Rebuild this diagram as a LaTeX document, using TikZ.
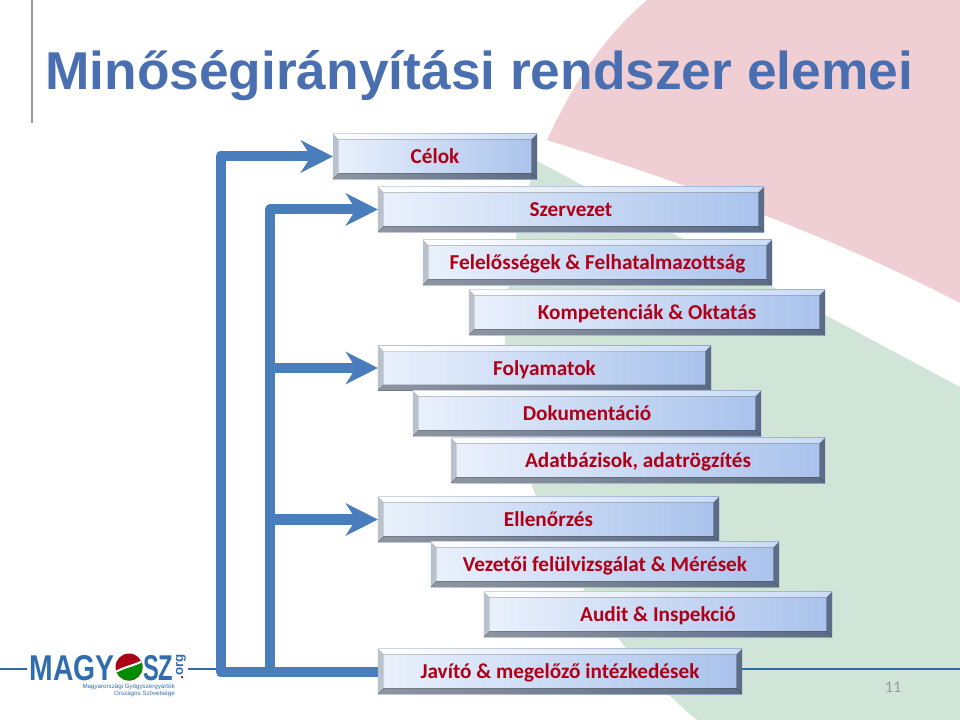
\documentclass[tikz,border=0pt]{standalone}
\usepackage{fontspec}
\usepackage{xcolor}
\usetikzlibrary{arrows.meta,positioning}
\setmainfont{Carlito}
\newfontfamily\headfont{Liberation Sans}
\definecolor{titleblue}{HTML}{4A6FB0}
\definecolor{flowblue}{HTML}{4A7DBB}
\definecolor{logoblue}{HTML}{2F6DAE}
\definecolor{barred}{HTML}{B00018}
\definecolor{pinkback}{HTML}{EFCFD3}
\definecolor{greenback}{HTML}{D0E5D8}
\definecolor{barleft}{HTML}{EAF1FC}
\definecolor{barright}{HTML}{A9C2EC}
\definecolor{topright}{HTML}{C9DBF6}
\definecolor{sideleft}{HTML}{B9C1CD}
\definecolor{sideright}{HTML}{5C6C86}
\definecolor{lowleft}{HTML}{8D95A1}
\tikzset{
  barbox/.style={rectangle,inner sep=0pt,outer sep=0pt,minimum height=1.125cm,
    left color=barleft,right color=barright,
    text=barred,font=\bfseries\fontsize{15.1pt}{17pt}\selectfont,
    text height=.5cm,text depth=.14cm,
    path picture={
      \coordinate (nw) at (path picture bounding box.north west);
      \coordinate (ne) at (path picture bounding box.north east);
      \coordinate (sw) at (path picture bounding box.south west);
      \coordinate (se) at (path picture bounding box.south east);
      \fill[left color=white,right color=topright]
        (nw) -- (ne) -- ([shift={(-.14cm,-.14cm)}]ne) -- ([shift={(.14cm,-.14cm)}]nw) -- cycle;
      \fill[sideleft]
        (nw) -- ([shift={(.14cm,-.14cm)}]nw) -- ([shift={(.14cm,.14cm)}]sw) -- (sw) -- cycle;
      \fill[sideright]
        (ne) -- ([shift={(-.14cm,-.14cm)}]ne) -- ([shift={(-.14cm,.14cm)}]se) -- (se) -- cycle;
      \fill[left color=lowleft,right color=sideright]
        (sw) -- ([shift={(.14cm,.14cm)}]sw) -- ([shift={(-.14cm,.14cm)}]se) -- (se) -- cycle;
    }},
  flowline/.style={draw=flowblue,line width=.25cm,line join=round},
  flowarrow/.style={flowline,-{Stealth[length=.8cm,width=.8cm,inset=.25cm]}},
  thinline/.style={draw=logoblue,line width=.04cm}
}
\begin{document}
\begin{tikzpicture}[x=.025cm,y=-.025cm]
\useasboundingbox (0,0) rectangle (960,720);
% background
\fill[pinkback] (647,0) .. controls (600,40) and (570,90) .. (547,140)
  .. controls (690,185) and (830,235) .. (960,303) -- (960,0) -- cycle;
\fill[greenback] (537,161) -- (960,387) -- (960,720) -- (697,720)
  .. controls (600,640) and (505,490) .. (505,345)
  .. controls (505,280) and (518,215) .. (537,161) -- cycle;
\draw[draw=black!40,line width=.04cm] (32,0) -- (32,123);
\node[text=titleblue,font=\headfont\bfseries\fontsize{37.9pt}{40pt}\selectfont,anchor=base west,inner sep=0pt] (title) at (45,90){Minőségirányítási rendszer elemei};
% lines behind the bars
\draw[thinline] (0,669) -- (27,669);
\draw[thinline] (188,669) -- (960,669);
% bars
\node[barbox,minimum width=5.1cm] (celok) at (435,156.5){Célok};
\node[barbox,minimum width=9.65cm] (szervezet) at (571,209.5){Szervezet};
\node[barbox,minimum width=8.725cm] (felelos) at (597.5,262.5){Felelősségek \& Felhatalmazottság};
\node[barbox,minimum width=8.9cm] (kompetencia) at (647,312.5){Kompetenciák \& Oktatás};
\node[barbox,minimum width=8.325cm] (folyamatok) at (544.5,368){Folyamatok};
\node[barbox,minimum width=8.7cm] (dokumentacio) at (587,413.5){Dokumentáció};
\node[barbox,minimum width=9.35cm] (adatbazis) at (638,460.5){Adatbázisok, adatrögzítés};
\node[barbox,minimum width=8.525cm] (ellenorzes) at (548.5,519.5){Ellenőrzés};
\node[barbox,minimum width=8.7cm] (vezetoi) at (605,564.5){Vezetői felülvizsgálat \& Mérések};
\node[barbox,minimum width=8.7cm] (audit) at (658,614.5){Audit \& Inspekció};
\node[barbox,minimum width=9.1cm] (javito) at (560,671.5){Javító \& megelőző intézkedések};
% arrows
\coordinate (outer) at (220.5,671.5);
\coordinate (inner) at (270,671.5);
\draw[flowarrow] (javito.west) -- (outer) -- (outer |- celok.west) -- (celok.west);
\draw[flowarrow] (inner) -- (inner |- szervezet.west) -- (szervezet.west);
\draw[flowarrow] (inner |- folyamatok.west) -- (folyamatok.west);
\draw[flowarrow] (inner |- ellenorzes.west) -- (ellenorzes.west);
% page number
\node[text=black!40,font=\fontsize{11.5pt}{13pt}\selectfont] (pagenum) at (893,687){11};
% logo
\node[text=logoblue,font=\headfont\bfseries\fontsize{25.5pt}{27pt}\selectfont,anchor=base east,inner sep=0pt,xscale=.79,transform shape] (magy) at (115,680){MAGY};
\node[text=logoblue,font=\headfont\bfseries\fontsize{25.5pt}{27pt}\selectfont,anchor=base west,inner sep=0pt,xscale=.66,transform shape] (sz) at (143,680){SZ};
\node[text=logoblue,font=\headfont\bfseries\fontsize{9.5pt}{11pt}\selectfont,rotate=90,inner sep=0pt] (org) at (181,667){{\color{barred}.}org};
\fill[red!75!black!90!blue] (129,667) circle (13.5);
\begin{scope}
\clip (129,667) circle (13.5);
\fill[green!55!black] (114,673) -- (144,660) -- (144,685) -- (114,685) -- cycle;
\draw[white,line width=.05cm] (114,673) .. controls (125,666) and (135,666) .. (144,660);
\end{scope}
\node[text=logoblue,font=\headfont\fontsize{4.4pt}{5pt}\selectfont,anchor=east,inner sep=0pt] (logoa) at (175,687){Magyarországi Gyógyszergyártók};
\node[text=logoblue,font=\headfont\fontsize{4.4pt}{5pt}\selectfont,anchor=east,inner sep=0pt] (logob) at (175,694){Országos Szövetsége};
\end{tikzpicture}
\end{document}
